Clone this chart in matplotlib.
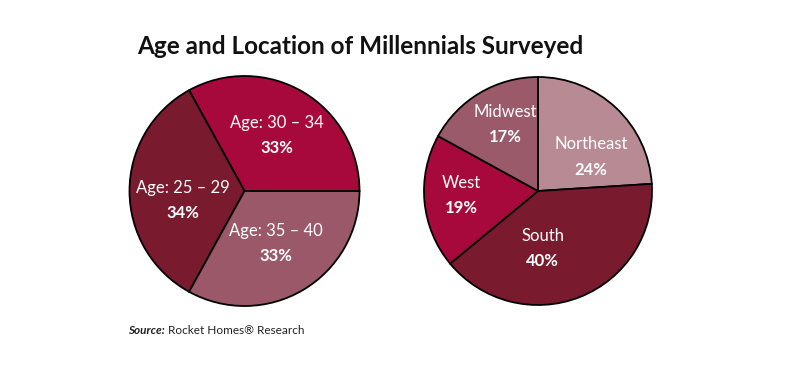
import matplotlib
matplotlib.use("Agg")
import matplotlib.pyplot as plt
import numpy as np

plt.rcParams['font.family'] = ['Lato', 'DejaVu Sans']

title = "Age and Location of Millennials Surveyed"
source_bold = "Source:"
source_rest = " Rocket Homes\u00ae Research"

age_labels = ["Age: 30 \u2013 34", "Age: 25 \u2013 29", "Age: 35 \u2013 40"]
age_values = [33, 34, 33]
age_colors = ["#A8093C", "#7A1A2E", "#9B5868"]

region_labels = ["Northeast", "South", "West", "Midwest"]
region_values = [24, 40, 19, 17]
region_colors = ["#B88A93", "#7A1A2E", "#A8093C", "#9B5A6A"]

W, H = 800, 366
fig = plt.figure(figsize=(8, 3.66), dpi=100)
fig.patch.set_facecolor("white")


def make_ax(cx, cy, half=135):
    ax = fig.add_axes([(cx - half) / W, (H - cy - half) / H, 2 * half / W, 2 * half / H])
    return ax


def finish_ax(ax, r, half=135):
    lim = half / r
    ax.set_xlim(-lim, lim)
    ax.set_ylim(-lim, lim)
    ax.set_aspect("equal")
    ax.axis("off")


def place_labels(ax, wedges, labels, values, adjust):
    for w, lab, v, (dang, frac) in zip(wedges, labels, values, adjust):
        ang = np.deg2rad((w.theta1 + w.theta2) / 2 + dang)
        x, y = frac * np.cos(ang), frac * np.sin(ang)
        ax.text(x, y + 0.11, lab, ha="center", va="center", color="white",
                fontsize=12)
        ax.text(x, y - 0.11, f"{v}%", ha="center", va="center", color="white",
                fontsize=12, fontweight="bold")


# Left pie
ax1 = make_ax(244.5, 191)
w1, _ = ax1.pie(age_values, colors=age_colors, startangle=0, counterclock=True,
                radius=1, wedgeprops=dict(edgecolor="black", linewidth=1.3))
finish_ax(ax1, 115)
place_labels(ax1, w1, age_labels, age_values, [(0, 0.56), (9, 0.54), (0, 0.53)])

# Right pie
ax2 = make_ax(538, 191)
w2, _ = ax2.pie(region_values, colors=region_colors, startangle=90, counterclock=False,
                radius=1, wedgeprops=dict(edgecolor="black", linewidth=1.3))
finish_ax(ax2, 114)
place_labels(ax2, w2, region_labels, region_values,
             [(-14, 0.55), (-17, 0.51), (-2, 0.67), (-4, 0.65)])

fig.text(360 / W, 1 - 46 / H, title, ha="center", va="center",
         fontsize=17.5, fontweight="bold", color="#111111")

t = fig.text(128 / W, 1 - 330 / H, source_bold, ha="left", va="center",
             fontsize=8.5, fontweight="bold", fontstyle="italic", color="#222222")
fig.canvas.draw()
bb = t.get_window_extent()
fig.text(bb.x1 / W, 1 - 330 / H, source_rest, ha="left", va="center",
         fontsize=8.5, color="#222222")

fig.savefig("out.png", dpi=100, facecolor="white")
